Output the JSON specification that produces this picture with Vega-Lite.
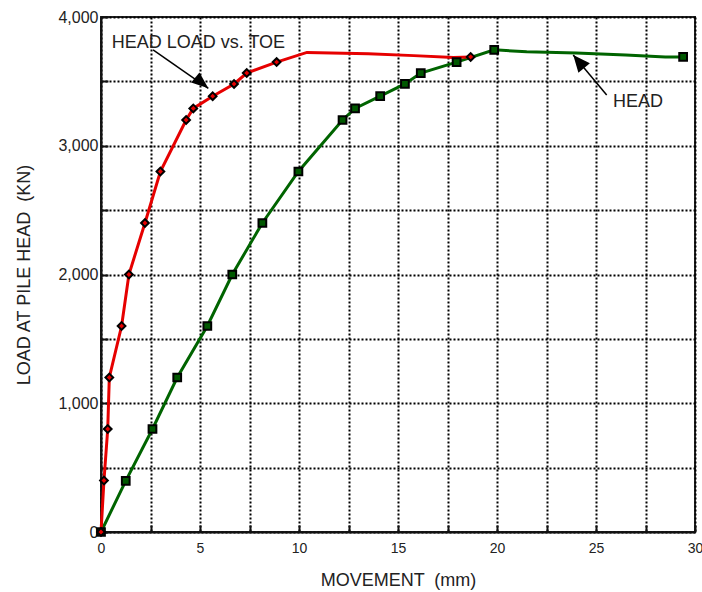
{
  "$schema": "https://vega.github.io/schema/vega-lite/v6.json",
  "autosize": "none",
  "width": 594,
  "height": 515,
  "padding": {"left": 101, "top": 17, "right": 7, "bottom": 60},
  "background": "white",
  "config": {
    "font": "Liberation Sans",
    "view": {"stroke": "#222", "strokeWidth": 2},
    "axis": {
      "domainColor": "#111", "domainWidth": 2,
      "gridColor": "#000", "gridWidth": 2, "gridDash": [2, 2], "gridOpacity": 1,
      "tickColor": "#111", "tickWidth": 2, "tickSize": -7,
      "labelFlush": false,
      "labelFont": "Liberation Sans", "labelColor": "#222",
      "titleFont": "Liberation Sans", "titleColor": "#222", "titleFontWeight": "normal"
    }
  },
  "datasets": {
    "curves": [
      {"series": "HEAD", "x": 0, "y": 0, "m": 1},
      {"series": "HEAD", "x": 1.25, "y": 397, "m": 1},
      {"series": "HEAD", "x": 2.6, "y": 800, "m": 1},
      {"series": "HEAD", "x": 3.85, "y": 1200, "m": 1},
      {"series": "HEAD", "x": 5.37, "y": 1600, "m": 1},
      {"series": "HEAD", "x": 6.63, "y": 2000, "m": 1},
      {"series": "HEAD", "x": 8.15, "y": 2400, "m": 1},
      {"series": "HEAD", "x": 9.97, "y": 2800, "m": 1},
      {"series": "HEAD", "x": 12.2, "y": 3200, "m": 1},
      {"series": "HEAD", "x": 12.83, "y": 3290, "m": 1},
      {"series": "HEAD", "x": 14.1, "y": 3385, "m": 1},
      {"series": "HEAD", "x": 15.35, "y": 3480, "m": 1},
      {"series": "HEAD", "x": 16.15, "y": 3565, "m": 1},
      {"series": "HEAD", "x": 17.96, "y": 3650, "m": 1},
      {"series": "HEAD", "x": 19.86, "y": 3745, "m": 1},
      {"series": "HEAD", "x": 21.5, "y": 3730, "m": 0},
      {"series": "HEAD", "x": 24, "y": 3720, "m": 0},
      {"series": "HEAD", "x": 26.5, "y": 3705, "m": 0},
      {"series": "HEAD", "x": 28.5, "y": 3690, "m": 0},
      {"series": "HEAD", "x": 29.4, "y": 3690, "m": 1},
      {"series": "TOE", "x": 0, "y": 0, "m": 1},
      {"series": "TOE", "x": 0.15, "y": 400, "m": 1},
      {"series": "TOE", "x": 0.34, "y": 800, "m": 1},
      {"series": "TOE", "x": 0.42, "y": 1200, "m": 1},
      {"series": "TOE", "x": 1.04, "y": 1600, "m": 1},
      {"series": "TOE", "x": 1.41, "y": 2000, "m": 1},
      {"series": "TOE", "x": 2.22, "y": 2400, "m": 1},
      {"series": "TOE", "x": 3.0, "y": 2800, "m": 1},
      {"series": "TOE", "x": 4.3, "y": 3200, "m": 1},
      {"series": "TOE", "x": 4.66, "y": 3290, "m": 1},
      {"series": "TOE", "x": 5.64, "y": 3385, "m": 1},
      {"series": "TOE", "x": 6.72, "y": 3480, "m": 1},
      {"series": "TOE", "x": 7.36, "y": 3565, "m": 1},
      {"series": "TOE", "x": 8.87, "y": 3650, "m": 1},
      {"series": "TOE", "x": 10.4, "y": 3725, "m": 0},
      {"series": "TOE", "x": 13.5, "y": 3715, "m": 0},
      {"series": "TOE", "x": 15.8, "y": 3700, "m": 0},
      {"series": "TOE", "x": 17.8, "y": 3685, "m": 0},
      {"series": "TOE", "x": 18.67, "y": 3690, "m": 1}
    ],
    "notes": [
      {"label": "HEAD LOAD vs. TOE", "x": 0.54, "y": 3759},
      {"label": "HEAD", "x": 25.86, "y": 3303}
    ],
    "arrows": [
      {"id": "a1", "x": 2.63, "y": 3744, "x2": 5.42, "y2": 3446},
      {"id": "a2", "x": 25.54, "y": 3394, "x2": 23.85, "y2": 3705}
    ]
  },
  "data": {"name": "curves"},
  "layer": [
    {
      "transform": [{"filter": "datum.series === 'HEAD'"}],
      "mark": {"type": "line", "color": "#006400", "strokeWidth": 3},
      "encoding": {
        "x": {"field": "x", "type": "quantitative",
          "scale": {"domain": [0, 30], "nice": false},
          "axis": {
            "values": [0, 2.5, 5, 7.5, 10, 12.5, 15, 17.5, 20, 22.5, 25, 27.5, 30],
            "labelExpr": "datum.value % 5 === 0 ? format(datum.value, 'd') : ''",
            "labelFontSize": 14, "labelPadding": 16,
            "title": "MOVEMENT \u00a0(mm)", "titleFontSize": 18,
            "titleY": 53, "titleBaseline": "alphabetic"
          }},
        "y": {"field": "y", "type": "quantitative",
          "scale": {"domain": [0, 4000], "nice": false},
          "axis": {
            "values": [0, 500, 1000, 1500, 2000, 2500, 3000, 3500, 4000],
            "labelExpr": "datum.value % 1000 === 0 ? format(datum.value, ',') : ''",
            "labelFontSize": 16, "labelPadding": 10,
            "title": "LOAD AT PILE HEAD \u00a0(KN)", "titleFontSize": 18,
            "titleX": -72, "titleY": 257.5, "titleAngle": -90,
            "titleBaseline": "alphabetic", "titleAlign": "center"
          }}
      }
    },
    {
      "transform": [{"filter": "datum.series === 'TOE'"}],
      "mark": {"type": "line", "color": "#e60000", "strokeWidth": 3},
      "encoding": {
        "x": {"field": "x", "type": "quantitative"},
        "y": {"field": "y", "type": "quantitative"}
      }
    },
    {
      "transform": [{"filter": "datum.series === 'HEAD' && datum.m === 1"}],
      "mark": {"type": "point", "shape": "square", "filled": true, "fill": "#005800", "stroke": "#000", "strokeWidth": 2, "size": 60, "opacity": 1},
      "encoding": {
        "x": {"field": "x", "type": "quantitative"},
        "y": {"field": "y", "type": "quantitative"}
      }
    },
    {
      "transform": [{"filter": "datum.series === 'TOE' && datum.m === 1"}],
      "mark": {"type": "point", "shape": "diamond", "filled": true, "fill": "#e60000", "stroke": "#000", "strokeWidth": 2, "size": 60, "opacity": 1},
      "encoding": {
        "x": {"field": "x", "type": "quantitative"},
        "y": {"field": "y", "type": "quantitative"}
      }
    },
    {
      "data": {"name": "arrows"},
      "mark": {"type": "rule", "color": "#000", "strokeWidth": 1.5},
      "encoding": {
        "x": {"field": "x", "type": "quantitative"},
        "y": {"field": "y", "type": "quantitative"},
        "x2": {"field": "x2"},
        "y2": {"field": "y2"}
      }
    },
    {
      "data": {"name": "arrows"},
      "transform": [{"filter": "datum.id === 'a1'"}],
      "mark": {"type": "point", "shape": "M0,0L-1.7,-0.65L-1.7,0.65Z", "filled": true, "color": "#000", "size": 400, "angle": 40, "opacity": 1},
      "encoding": {
        "x": {"field": "x2", "type": "quantitative"},
        "y": {"field": "y2", "type": "quantitative"}
      }
    },
    {
      "data": {"name": "arrows"},
      "transform": [{"filter": "datum.id === 'a2'"}],
      "mark": {"type": "point", "shape": "M0,0L-1.7,-0.75L-1.7,0.75Z", "filled": true, "color": "#000", "size": 400, "angle": 230, "opacity": 1},
      "encoding": {
        "x": {"field": "x2", "type": "quantitative"},
        "y": {"field": "y2", "type": "quantitative"}
      }
    },
    {
      "data": {"name": "notes"},
      "mark": {"type": "text", "align": "left", "baseline": "alphabetic", "fontSize": 18, "font": "Liberation Sans", "color": "#222"},
      "encoding": {
        "x": {"field": "x", "type": "quantitative"},
        "y": {"field": "y", "type": "quantitative"},
        "text": {"field": "label"}
      }
    }
  ]
}
